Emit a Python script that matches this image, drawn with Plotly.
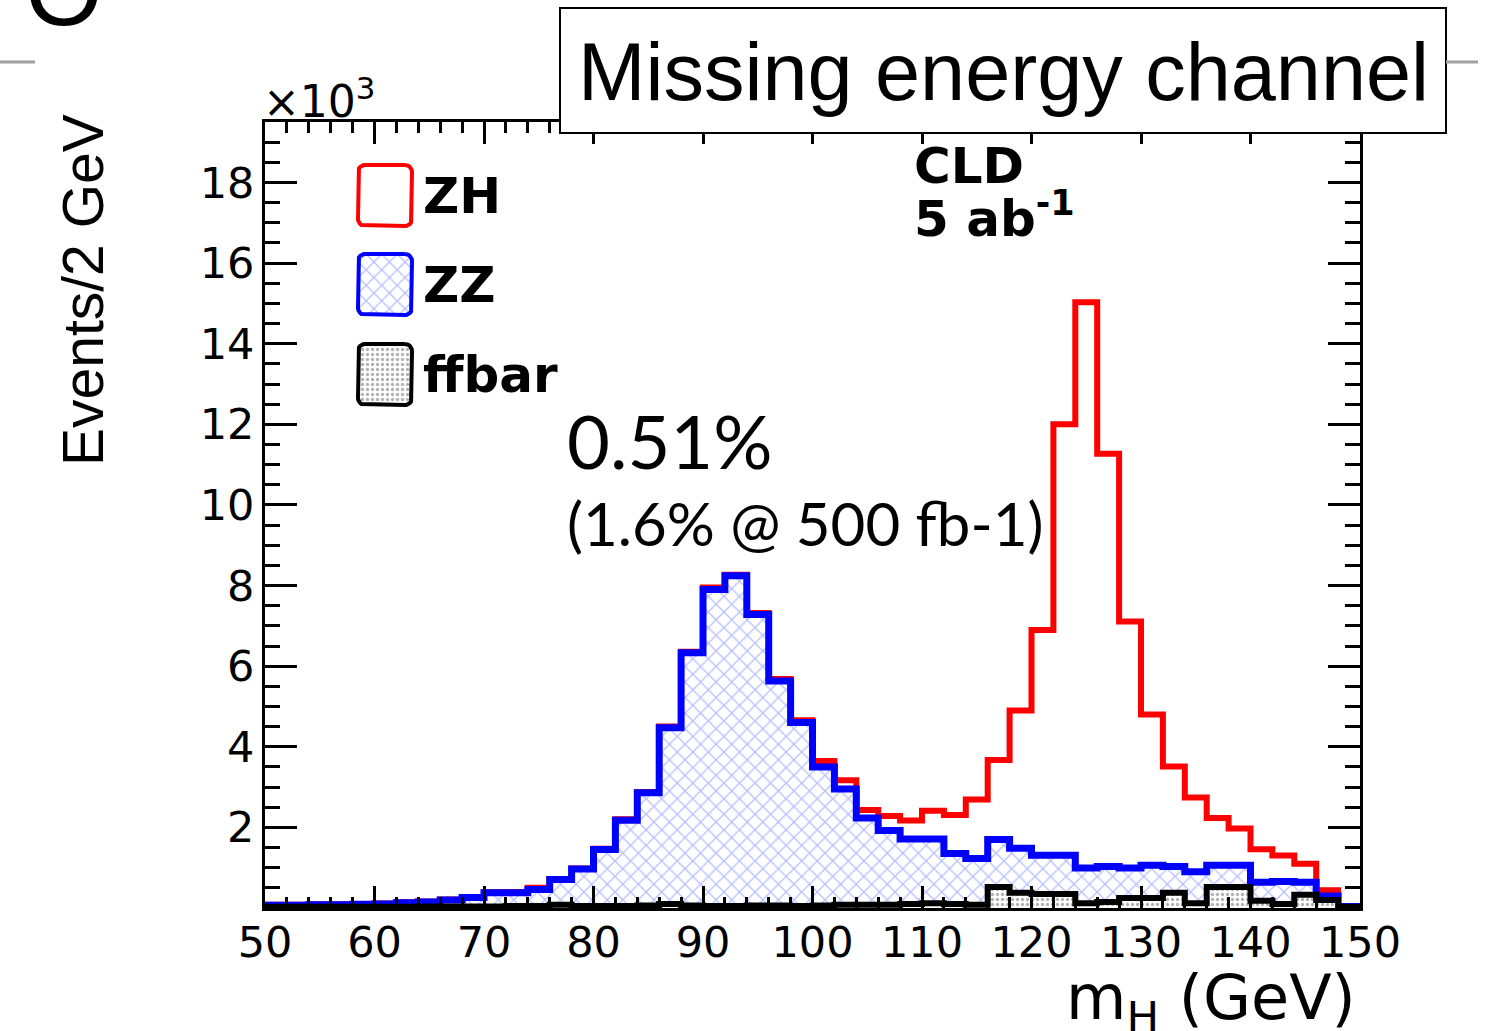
import plotly.graph_objects as go

# ---------------- data, thousands of events / 2 GeV ----------------
bin_low = [50, 52, 54, 56, 58, 60, 62, 64, 66, 68, 70, 72, 74, 76, 78, 80, 82, 84, 86, 88,
           90, 92, 94, 96, 98, 100, 102, 104, 106, 108, 110, 112, 114, 116, 118, 120, 122, 124,
           126, 128, 130, 132, 134, 136, 138, 140, 142, 144, 146, 148]
bin_width = 2

# stacked histogram (THStack): heights of the drawn outlines
zh_stacked = [0.08, 0.08, 0.09, 0.09, 0.10, 0.11, 0.14, 0.16,
              0.21, 0.27, 0.39, 0.40, 0.50, 0.72, 0.98, 1.47, 2.20, 2.88, 4.50, 6.36,
              7.95, 8.27, 7.32, 5.68, 4.66,
              3.65, 3.17, 2.43, 2.28, 2.17, 2.41, 2.31, 2.69, 3.67, 4.90, 6.90, 12.0,
              15.03, 11.27, 7.11, 4.80, 3.51, 2.74, 2.23, 1.97, 1.46, 1.30, 1.10, 0.44, 0.05]
zz_stacked = [0.07, 0.07, 0.08, 0.08, 0.09, 0.10, 0.13, 0.15,
              0.20, 0.26, 0.38, 0.38, 0.46, 0.71, 0.97, 1.45, 2.18, 2.86, 4.47, 6.33,
              7.90, 8.24, 7.28, 5.63, 4.60,
              3.50, 2.95, 2.23, 1.92, 1.71, 1.71, 1.35, 1.23, 1.70, 1.48, 1.31, 1.31,
              0.99, 1.03, 0.99, 1.06, 1.03, 0.90, 1.06, 1.06, 0.64, 0.66, 0.64, 0.30, 0.04]
ffbar = [0.03, 0.03, 0.03, 0.03, 0.03, 0.03, 0.03, 0.04,
         0.04, 0.04, 0.04, 0.05, 0.05, 0.08, 0.05, 0.05, 0.05, 0.06, 0.10, 0.06,
         0.05, 0.05, 0.06, 0.06, 0.05,
         0.06, 0.08, 0.08, 0.08, 0.10, 0.12, 0.10, 0.08, 0.52, 0.38, 0.35, 0.35,
         0.12, 0.15, 0.25, 0.25, 0.38, 0.12, 0.52, 0.52, 0.18, 0.10, 0.33, 0.20, 0.03]

x_ticks = [50, 60, 70, 80, 90, 100, 110, 120, 130, 140, 150]
y_ticks = [2, 4, 6, 8, 10, 12, 14, 16, 18]
legend_labels = ["ZH", "ZZ", "ffbar"]

# ---------------- layout helpers (pixel -> paper) ----------------
W, H = 1492, 1031
L, R, T, B = 265, 1360, 122, 908


def px(x):
    return (x - L) / (R - L)


def py(y):
    return (B - y) / (B - T)


def step(vals):
    xs = [bin_low[0]] + bin_low + [bin_low[-1] + bin_width, bin_low[-1] + bin_width]
    ys = [0] + list(vals) + [vals[-1], 0]
    return xs, ys


ZZ_PAT = dict(shape="x", fgcolor="#6f7dff", bgcolor="white", size=11, solidity=0.22)
FF_PAT = dict(shape=".", fgcolor="#666666", bgcolor="white", size=5, solidity=0.35)

fig = go.Figure()

xs, ys = step(zh_stacked)
fig.add_trace(go.Scatter(x=xs, y=ys, mode="lines", line=dict(color="#ff0000", width=6, shape="hv"),
                         name="ZH", showlegend=False, hoverinfo="skip"))
xs, ys = step(zz_stacked)
fig.add_trace(go.Scatter(x=xs, y=ys, mode="lines", line=dict(color="#0000ff", width=7, shape="hv"),
                         fill="tozeroy", fillcolor="rgba(0,0,0,0)", fillpattern=ZZ_PAT,
                         name="ZZ", showlegend=False, hoverinfo="skip"))
xs, ys = step(ffbar)
fig.add_trace(go.Scatter(x=xs, y=ys, mode="lines", line=dict(color="black", width=6, shape="hv"),
                         fill="tozeroy", fillcolor="rgba(0,0,0,0)", fillpattern=FF_PAT,
                         name="ffbar", showlegend=False, hoverinfo="skip"))


# ---------------- legend swatches (overlay axes in pixel units) ----------------
def rounded_box(x0, y0, x1, y1, r=7, n=6):
    import math
    pts = []
    corners = [(x1 - r, y0 + r, -90), (x1 - r, y1 - r, 0), (x0 + r, y1 - r, 90), (x0 + r, y0 + r, 180)]
    for cx, cy, a0 in corners:
        for k in range(n + 1):
            a = math.radians(a0 + 90 * k / n)
            pts.append((cx + r * math.cos(a), cy + r * math.sin(a)))
    pts.append(pts[0])
    return [p[0] for p in pts], [p[1] for p in pts]


sw_styles = [
    dict(line="#ff0000", pat=None),
    dict(line="#0000ff", pat=ZZ_PAT),
    dict(line="black", pat=FF_PAT),
]
sw_top = [165, 254, 344]
for lab, st, top in zip(legend_labels, sw_styles, sw_top):
    bx, by = rounded_box(358, top, 412, top + 61)
    kw = dict(fill="toself", fillcolor="white")
    if st["pat"] is not None:
        kw = dict(fill="toself", fillcolor="rgba(0,0,0,0)", fillpattern=st["pat"])
    fig.add_trace(go.Scatter(x=bx, y=by, mode="lines", line=dict(color=st["line"], width=4),
                             xaxis="x2", yaxis="y2", showlegend=False, hoverinfo="skip", **kw))
    fig.add_annotation(xref="paper", yref="paper", x=px(421), y=py(top + 31), text=f"<b>{lab}</b>",
                       xanchor="left", yanchor="middle", showarrow=False,
                       font=dict(family="DejaVu Sans", size=50, color="black"))

axis_common = dict(showline=True, linecolor="black", linewidth=3, mirror="ticks", ticks="inside",
                   tickcolor="black", tickwidth=3, showgrid=False, zeroline=False,
                   tickfont=dict(family="DejaVu Sans", size=43, color="black"))

fig.update_layout(
    width=W, height=H,
    margin=dict(l=L, r=W - R, t=T, b=H - B, pad=0),
    paper_bgcolor="white", plot_bgcolor="white",
    showlegend=False,
    xaxis=dict(range=[50, 150], tickmode="array", tickvals=x_ticks, ticklen=22,
               ticklabelstandoff=-6,
               minor=dict(tickmode="linear", tick0=50, dtick=2, ticks="inside", ticklen=11,
                          tickwidth=3, tickcolor="black"),
               **axis_common),
    yaxis=dict(range=[0, 19.5], tickmode="array", tickvals=y_ticks, ticklen=32,
               ticklabelstandoff=-1,
               minor=dict(tickmode="linear", tick0=0, dtick=0.5, ticks="inside", ticklen=15,
                          tickwidth=3, tickcolor="black"),
               **axis_common),
    xaxis2=dict(overlaying="x", range=[L, R], visible=False, anchor="y2"),
    yaxis2=dict(overlaying="y", range=[B, T], visible=False, anchor="x2"),
)

ann = []
# x10^3
ann.append(dict(x=px(261), y=py(99), text="×10<sup>3</sup>", xanchor="left", yanchor="middle",
                font=dict(family="DejaVu Sans", size=44, color="black")))
# CLD, 5 ab^-1
ann.append(dict(x=px(912), y=py(166), text="<b>CLD</b>", xanchor="left", yanchor="middle",
                font=dict(family="DejaVu Sans", size=50, color="black")))
ann.append(dict(x=px(912), y=py(215), text="<b>5 ab<sup>-1</sup></b>", xanchor="left", yanchor="middle",
                font=dict(family="DejaVu Sans", size=50, color="black")))
# precision text
ann.append(dict(x=px(565), y=py(440), text="0.51%", xanchor="left", yanchor="middle",
                font=dict(family="Lato", size=74, color="black")))
ann.append(dict(x=px(565), y=py(523), text="(1.6% @ 500 fb-1)", xanchor="left", yanchor="middle",
                font=dict(family="Lato", size=60, color="black")))
# axis titles
ann.append(dict(x=px(1358), y=py(1001), text="m<sub>H</sub> (GeV)", xanchor="right", yanchor="middle",
                font=dict(family="DejaVu Sans", size=62, color="black")))
ann.append(dict(x=px(83), y=py(290), text="Events/2 GeV", xanchor="center", yanchor="middle", textangle=-90,
                font=dict(family="Liberation Sans", size=57, color="black")))
# slide title box
ann.append(dict(x=px(1003), y=py(72), text="Missing energy channel", xanchor="center", yanchor="middle",
                font=dict(family="Liberation Sans", size=81, color="black")))
# partial slide glyph at top-left
ann.append(dict(x=px(64), y=py(-10), text="O", xanchor="center", yanchor="middle",
                font=dict(family="Liberation Sans", size=100, color="black")))
for a in ann:
    a.update(xref="paper", yref="paper", showarrow=False)
    fig.add_annotation(**a)

fig.add_shape(type="rect", xref="paper", yref="paper", x0=px(560), x1=px(1446), y0=py(133), y1=py(8),
              fillcolor="white", line=dict(color="black", width=2), layer="above")
fig.add_shape(type="line", xref="paper", yref="paper", x0=px(0), x1=px(35), y0=py(62), y1=py(62),
              line=dict(color="#a0a0a0", width=3))
fig.add_shape(type="line", xref="paper", yref="paper", x0=px(1446), x1=px(1478), y0=py(62), y1=py(62),
              line=dict(color="#a0a0a0", width=3))

fig.write_html("out.html", config={"displayModeBar": False},
               post_script="document.body.style.margin='0px';")
